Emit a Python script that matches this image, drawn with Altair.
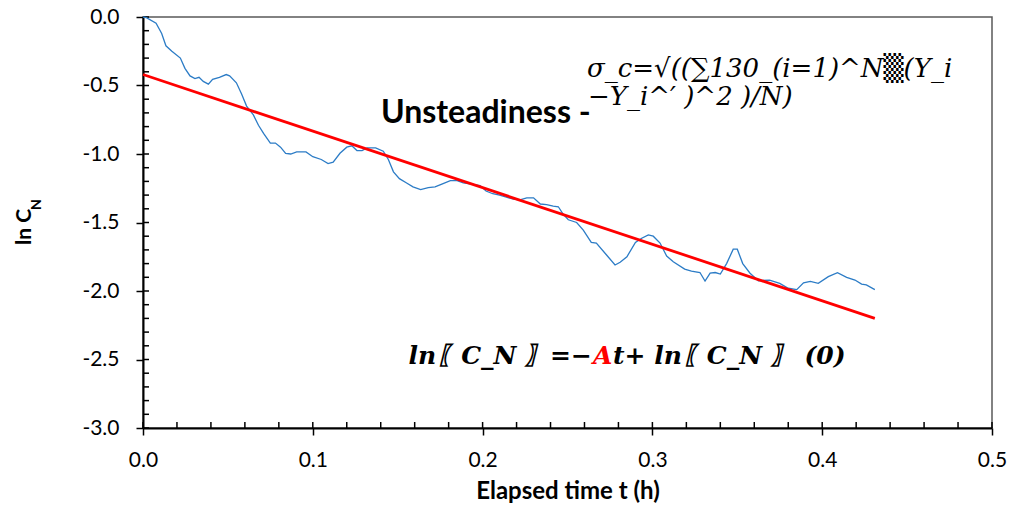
import altair as alt
import pandas as pd

# ---- data ----
t_obs = [0.000, 0.002, 0.0077, 0.011, 0.0135, 0.017, 0.022, 0.0247, 0.0277, 0.0306,
         0.033, 0.0355, 0.0385, 0.041, 0.045, 0.049, 0.051, 0.055, 0.058, 0.061,
         0.065, 0.068, 0.071, 0.075, 0.078, 0.081, 0.084, 0.087, 0.0905, 0.096,
         0.100, 0.105, 0.109, 0.112, 0.116, 0.120, 0.123, 0.126, 0.129, 0.132,
         0.137, 0.1415, 0.1445, 0.1475, 0.151, 0.155, 0.159, 0.1635, 0.168, 0.172,
         0.176, 0.181, 0.185, 0.1886, 0.1935, 0.1985, 0.202, 0.206, 0.210, 0.214,
         0.218, 0.222, 0.226, 0.230, 0.234, 0.2377, 0.2416, 0.2446, 0.2475, 0.2505,
         0.2554, 0.2593, 0.264, 0.267, 0.273, 0.278, 0.281, 0.285, 0.290, 0.2937,
         0.2976, 0.3005, 0.3045, 0.3084, 0.3123, 0.319, 0.323, 0.328, 0.331, 0.334,
         0.337, 0.340, 0.3437, 0.3476, 0.350, 0.3532, 0.3575, 0.3624, 0.369, 0.375,
         0.380, 0.385, 0.389, 0.393, 0.3977, 0.4036, 0.409, 0.4144, 0.4193, 0.4232,
         0.426, 0.431]
ln_cn = [0.00, -0.005, -0.046, -0.12, -0.21, -0.25, -0.30, -0.375, -0.43, -0.45,
         -0.44, -0.47, -0.49, -0.455, -0.44, -0.42, -0.43, -0.48, -0.56, -0.65,
         -0.715, -0.79, -0.85, -0.92, -0.92, -0.95, -0.995, -1.00, -0.985, -0.985,
         -1.02, -1.04, -1.07, -1.06, -0.995, -0.95, -0.94, -0.975, -0.975, -0.955,
         -0.955, -0.98, -1.04, -1.13, -1.18, -1.21, -1.24, -1.26, -1.245, -1.24,
         -1.22, -1.195, -1.195, -1.21, -1.22, -1.23, -1.27, -1.29, -1.30, -1.315,
         -1.33, -1.335, -1.32, -1.32, -1.365, -1.37, -1.38, -1.385, -1.44, -1.48,
         -1.50, -1.555, -1.645, -1.65, -1.737, -1.81, -1.79, -1.75, -1.645, -1.615,
         -1.59, -1.60, -1.65, -1.745, -1.786, -1.84, -1.855, -1.865, -1.927, -1.87,
         -1.865, -1.876, -1.80, -1.695, -1.695, -1.80, -1.87, -1.925, -1.92, -1.944,
         -1.98, -1.99, -1.94, -1.93, -1.944, -1.895, -1.866, -1.90, -1.92, -1.95,
         -1.956, -1.99]

fit_t = [0.0, 0.431]
fit_y = [-0.42, -2.20]

x_major = [0.0, 0.1, 0.2, 0.3, 0.4, 0.5]
y_major = [0.0, -0.5, -1.0, -1.5, -2.0, -2.5, -3.0]
x_minor = [0.0, 0.02, 0.04, 0.06, 0.08, 0.1, 0.12, 0.14, 0.16, 0.18, 0.2, 0.22, 0.24,
           0.26, 0.28, 0.3, 0.32, 0.34, 0.36, 0.38, 0.4, 0.42, 0.44, 0.46, 0.48, 0.5]
y_minor = [0.0, -0.1, -0.2, -0.3, -0.4, -0.5, -0.6, -0.7, -0.8, -0.9, -1.0, -1.1, -1.2,
           -1.3, -1.4, -1.5, -1.6, -1.7, -1.8, -1.9, -2.0, -2.1, -2.2, -2.3, -2.4, -2.5,
           -2.6, -2.7, -2.8, -2.9, -3.0]

x_title = "Elapsed time t (h)"
y_title_main = "ln C"
y_title_sub = "N"
note_label = "Unsteadiness -"
sigma_line1 = "σ_c=√((∑130_(i=1)^N▒(Y_i"
sigma_line2 = "−Y_i^′ )^2 )/N)"
eq_left = "ln〖C_N 〗=−"
eq_red = "A"
eq_right = "t+ ln〖C_N 〗 (0)"

W, H = 849, 411
SANS = "Lato"
SERIF = "DejaVu Serif"
label_expr = "(datum.value < 0 ? '-' : '') + format(abs(datum.value), '.1f')"

x_axis = alt.Axis(values=x_major, labelExpr=label_expr, title=x_title,
                  titleFont=SANS, titleFontSize=24, titleFontWeight="bold",
                  titleColor="black", titlePadding=9,
                  labelFont=SANS, labelFontSize=21, labelColor="black", labelPadding=14,
                  labelFlush=False,
                  tickSize=7, tickColor="black", tickWidth=1.5,
                  domainColor="black", domainWidth=2, grid=False)
y_axis = alt.Axis(values=y_major, labelExpr=label_expr, title=None,
                  labelFont=SANS, labelFontSize=21, labelColor="black", labelPadding=17,
                  labelFlush=False,
                  tickSize=7, tickColor="black", tickWidth=1.5,
                  domainColor="black", domainWidth=2, grid=False)
x_scale = alt.Scale(domain=[0, 0.5], nice=False, zero=False)
y_scale = alt.Scale(domain=[-3, 0], nice=False, zero=False)


def X(f):
    return alt.X(f"{f}:Q", scale=x_scale, axis=x_axis)


def Y(f):
    return alt.Y(f"{f}:Q", scale=y_scale, axis=y_axis)


obs = pd.DataFrame({"t": t_obs, "y": ln_cn})
fit = pd.DataFrame({"t": fit_t, "y": fit_y})

blue = alt.Chart(obs).mark_line(color="#2c7cc6", strokeWidth=1.3).encode(x=X("t"), y=Y("y"))
red = alt.Chart(fit).mark_line(color="#ff0000", strokeWidth=2.8).encode(x=X("t"), y=Y("y"))

xt = alt.Chart(pd.DataFrame({"t": x_minor})).mark_rule(color="black", strokeWidth=1.5).encode(
    x=X("t"), y=alt.value(H), y2=alt.value(H - 6))
yt = alt.Chart(pd.DataFrame({"y": y_minor})).mark_rule(color="black", strokeWidth=1.5).encode(
    y=Y("y"), x=alt.value(0), x2=alt.value(6))


def label(text, x, y, **kw):
    return alt.Chart(pd.DataFrame({"s": [text]})).mark_text(**kw).encode(
        text="s:N", x=alt.value(x), y=alt.value(y))


ox, oy = 143, 17
texts = [
    label(y_title_main, 25 - ox, 245 - oy, angle=270, align="left", baseline="middle",
          font=SANS, fontSize=21, fontWeight="bold", color="black"),
    label(y_title_sub, 37 - ox, 210 - oy, angle=270, align="left", baseline="middle",
          font=SANS, fontSize=14, fontWeight="bold", color="black"),
    label(note_label, 381 - ox, 123 - oy, align="left", baseline="alphabetic",
          font=SANS, fontSize=32, fontWeight="bold", color="black"),
    label(sigma_line1, 587 - ox, 77 - oy, align="left", baseline="alphabetic",
          font=SERIF, fontSize=26, fontStyle="italic", color="black"),
    label(sigma_line2, 588 - ox, 105 - oy, align="left", baseline="alphabetic",
          font=SERIF, fontSize=26, fontStyle="italic", color="black"),
    label(eq_left, 592 - ox, 364 - oy, align="right", baseline="alphabetic",
          font=SERIF, fontSize=25, fontStyle="italic", fontWeight="bold", color="black"),
    label(eq_red, 593 - ox, 364 - oy, align="left", baseline="alphabetic",
          font=SERIF, fontSize=25, fontStyle="italic", fontWeight="bold", color="#ff0000"),
    label(eq_right, 613 - ox, 364 - oy, align="left", baseline="alphabetic",
          font=SERIF, fontSize=25, fontStyle="italic", fontWeight="bold", color="black"),
]

chart = alt.layer(xt, yt, blue, red, *texts).properties(
    width=W, height=H,
    autosize=alt.AutoSizeParams(type="none"),
    padding={"left": 135, "top": 9, "right": 18, "bottom": 76},
    background="white",
).configure_view(stroke="#595959", strokeWidth=1.5)

chart.save("out.html", embed_options={"renderer": "svg", "actions": False})
